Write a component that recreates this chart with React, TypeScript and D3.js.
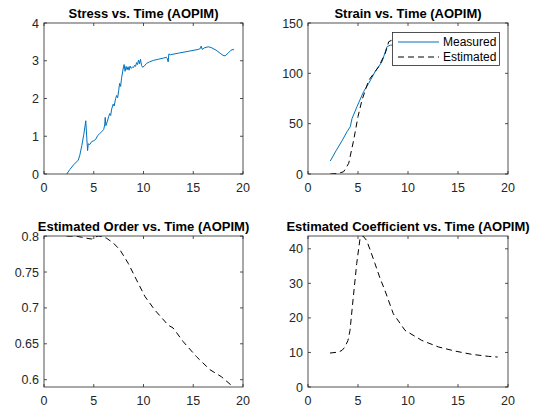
import * as d3 from 'd3'

// stress (time, value)
const stressT = [2.28, 2.6, 3.0, 3.45, 3.6, 3.8, 4.0, 4.2, 4.3, 4.38, 4.45, 4.6, 4.8, 5.0, 5.2, 5.4, 5.6, 5.8, 6.0, 6.1, 6.15, 6.22, 6.35, 6.5, 6.6, 6.7, 6.8, 6.95, 7.05, 7.2, 7.3, 7.4, 7.5, 7.6, 7.7, 7.8, 7.95, 8.05, 8.15, 8.25, 8.35, 8.45, 8.55, 8.65, 8.75, 8.9, 9.0, 9.1, 9.2, 9.3, 9.4, 9.5, 9.6, 9.7, 9.8, 9.9, 10.05, 10.3, 10.6, 11.0, 11.5, 12.0, 12.3, 12.4, 12.48, 12.55, 12.7, 13.5, 14.5, 15.5, 15.7, 15.8, 15.9, 16.1, 16.5, 16.8, 17.3, 17.7, 18.0, 18.2, 18.5, 18.8, 19.0, 19.1]
const stressV = [0, 0.12, 0.25, 0.37, 0.5, 0.75, 1.05, 1.41, 0.95, 0.62, 0.8, 0.78, 0.86, 0.88, 0.92, 1.02, 1.07, 1.12, 1.18, 1.3, 1.5, 1.28, 1.38, 1.52, 1.6, 1.55, 1.72, 1.85, 1.8, 2.0, 2.08, 2.02, 2.2, 2.4, 2.32, 2.55, 2.78, 2.9, 2.72, 2.85, 2.76, 2.84, 2.75, 2.86, 2.8, 2.83, 2.82, 2.88, 2.85, 2.95, 2.9, 3.02, 2.92, 3.04, 2.88, 2.83, 2.85, 2.93, 2.97, 3.01, 3.04, 3.07, 3.09, 3.05, 2.97, 3.18, 3.16, 3.2, 3.25, 3.3, 3.32, 3.39, 3.3, 3.34, 3.37, 3.35, 3.28, 3.2, 3.14, 3.13, 3.2, 3.28, 3.3, 3.28]

// strain measured
const measT = [2.23, 2.8, 3.4, 3.9, 4.23, 4.4, 4.9, 5.57, 6.07, 6.73, 7.4, 7.9, 8.23, 8.6, 10, 12, 14, 16, 18, 19.1]
const measV = [12.9, 23, 33, 42, 47, 55, 67, 82, 90, 102, 111.5, 126.5, 128, 128, 128, 128, 128, 128, 128, 128]
// strain estimated
const estT = [2.23, 3.0, 3.57, 4.07, 4.57, 5.0, 5.4, 6.07, 7.07, 7.73, 8.07, 8.4, 8.8, 10, 12, 14, 16, 18, 19.1]
const estV = [0, 0.5, 2.3, 10.6, 33.8, 57, 73.5, 93, 106.6, 120, 131.4, 133, 133, 133, 133, 133, 133, 133, 133]

// estimated order
const orderT = [2.28, 3.2, 3.8, 4.3, 4.79, 5.1, 5.45, 5.8, 6.3, 7.0, 7.63, 8.47, 9.3, 10.14, 11.14, 12.48, 12.98, 13.99, 15.33, 16.67, 17.84, 18.84, 19.0]
const orderV = [0.8, 0.8, 0.7985, 0.797, 0.796, 0.7985, 0.8002, 0.7995, 0.797, 0.79, 0.781, 0.762, 0.739, 0.716, 0.697, 0.676, 0.672, 0.653, 0.632, 0.614, 0.604, 0.592, 0.5898]

// estimated coefficient
const coefT = [2.2, 3.03, 3.4, 3.7, 4.0, 4.2, 4.53, 4.87, 5.2, 5.5, 5.87, 6.3, 6.7, 7.2, 7.7, 8.53, 9.7, 11.37, 13.03, 14.7, 16.37, 18.03, 18.97]
const coefV = [9.83, 10.1, 10.6, 11.6, 13.5, 16.4, 26, 35.7, 42.9, 43.7, 42.4, 39, 35.7, 31.5, 27.9, 21.2, 16.4, 13.5, 11.6, 10.4, 9.45, 8.87, 8.67]

const xTicks = [0, 5, 10, 15, 20]

const BLUE = '#0072BD'
const AXC = '#262626'
const FONT = 'Liberation Sans, Arial, Helvetica, sans-serif'
const TICK_FS = 12.5

type Series = { t: number[]; v: number[]; color: string; dash?: string }

function Panel(props: {
  x0: number; x1: number; y0: number; y1: number
  title: string; yDomain: [number, number]; yTicks: number[]
  fmt: (d: number) => string
  series: Series[]
  legend?: boolean
}) {
  const { x0, x1, y0, y1, title, yDomain, yTicks, fmt, series, legend } = props
  const x = d3.scaleLinear().domain([0, 20]).range([x0, x1])
  const y = d3.scaleLinear().domain(yDomain).range([y1, y0])
  const line = d3.line<[number, number]>().x(d => x(d[0])).y(d => y(d[1]))
  const clipId = 'clip' + x0 + '_' + y0
  const tl = 3
  return (
    <g>
      <defs>
        <clipPath id={clipId}>
          <rect x={x0} y={y0} width={x1 - x0} height={y1 - y0} />
        </clipPath>
      </defs>
      <rect x={x0} y={y0} width={x1 - x0} height={y1 - y0} fill="white" />
      <g clipPath={`url(#${clipId})`}>
        {series.map((s, i) => (
          <path key={i} d={line(s.t.map((t, j) => [t, s.v[j]] as [number, number])) || ''}
            fill="none" stroke={s.color} strokeWidth={1} strokeDasharray={s.dash} />
        ))}
      </g>
      <rect x={x0} y={y0} width={x1 - x0} height={y1 - y0} fill="none" stroke={AXC} strokeWidth={0.8} />
      {xTicks.map(t => (
        <g key={'x' + t}>
          <line x1={x(t)} x2={x(t)} y1={y1} y2={y1 - tl} stroke={AXC} strokeWidth={0.8} />
          <line x1={x(t)} x2={x(t)} y1={y0} y2={y0 + tl} stroke={AXC} strokeWidth={0.8} />
          <text x={x(t)} y={y1 + 18} textAnchor="middle" fontSize={TICK_FS} fill={AXC} fontFamily={FONT}>{t}</text>
        </g>
      ))}
      {yTicks.map(t => (
        <g key={'y' + t}>
          <line x1={x0} x2={x0 + tl} y1={y(t)} y2={y(t)} stroke={AXC} strokeWidth={0.8} />
          <line x1={x1} x2={x1 - tl} y1={y(t)} y2={y(t)} stroke={AXC} strokeWidth={0.8} />
          <text x={x0 - 5} y={y(t) + 4.5} textAnchor="end" fontSize={TICK_FS} fill={AXC} fontFamily={FONT}>{fmt(t)}</text>
        </g>
      ))}
      <text x={(x0 + x1) / 2} y={y0 - 5} textAnchor="middle" fontSize={13} fontWeight="bold" fill="#000" fontFamily={FONT}>{title}</text>
      {legend && (
        <g>
          <rect x={392.5} y={32.5} width={107} height={33} fill="white" stroke={AXC} strokeWidth={0.8} />
          <line x1={398} x2={439} y1={42} y2={42} stroke={BLUE} strokeWidth={1} />
          <text x={443} y={46} fontSize={12} fill="#000" fontFamily={FONT}>Measured</text>
          <line x1={398} x2={439} y1={57} y2={57} stroke="#000" strokeWidth={1} strokeDasharray="6,4" />
          <text x={443} y={61} fontSize={12} fill="#000" fontFamily={FONT}>Estimated</text>
        </g>
      )}
    </g>
  )
}

function App() {
  return (
    <svg width={544} height={408} style={{ position: 'absolute', left: 0, top: 0, background: 'white' }}>
      <rect width={544} height={408} fill="white" />
      <Panel x0={44} x1={243} y0={23} y1={174} title="Stress vs. Time (AOPIM)"
        yDomain={[0, 4]} yTicks={[0, 1, 2, 3, 4]} fmt={d => String(d)}
        series={[{ t: stressT, v: stressV, color: BLUE }]} />
      <Panel x0={308} x1={508} y0={23} y1={174} title="Strain vs. Time (AOPIM)"
        yDomain={[0, 150]} yTicks={[0, 50, 100, 150]} fmt={d => String(d)}
        series={[{ t: measT, v: measV, color: BLUE }, { t: estT, v: estV, color: '#000', dash: '6,4' }]}
        legend />
      <Panel x0={44} x1={243} y0={236} y1={387} title="Estimated Order vs. Time (AOPIM)"
        yDomain={[0.5898, 0.8002]} yTicks={[0.6, 0.65, 0.7, 0.75, 0.8]} fmt={d => String(d)}
        series={[{ t: orderT, v: orderV, color: '#000', dash: '6,4' }]} />
      <Panel x0={308} x1={508} y0={236} y1={387} title="Estimated Coefficient vs. Time (AOPIM)"
        yDomain={[0, 43.7]} yTicks={[0, 10, 20, 30, 40]} fmt={d => String(d)}
        series={[{ t: coefT, v: coefV, color: '#000', dash: '6,4' }]} />
    </svg>
  )
}

export default App
